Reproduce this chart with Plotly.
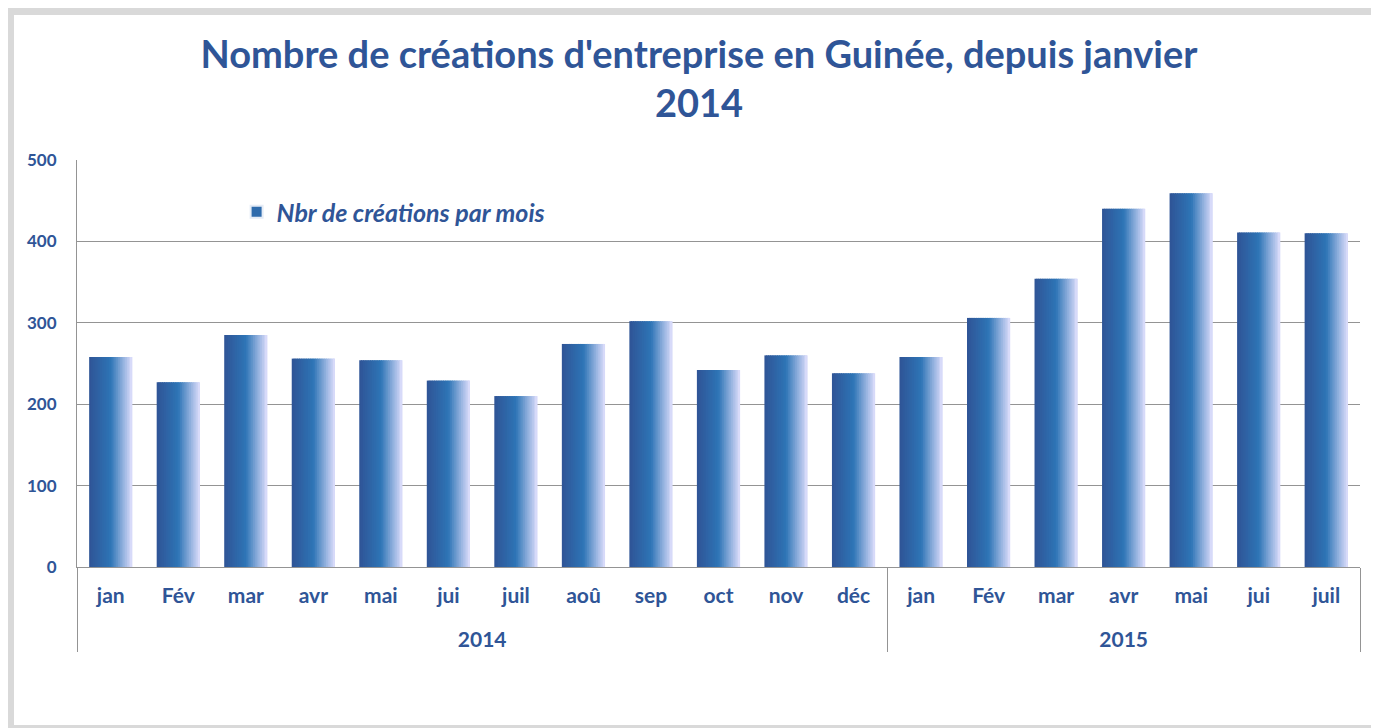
import plotly.graph_objects as go

years = ["2014"] * 12 + ["2015"] * 7
months = ["jan", "Fév", "mar", "avr", "mai", "jui", "juil", "aoû", "sep", "oct", "nov", "déc",
          "jan", "Fév", "mar", "avr", "mai", "jui", "juil"]
creations = [258, 227, 285, 256, 254, 229, 210, 274, 302, 242, 260, 238,
             258, 306, 354, 440, 459, 411, 410]
series_name = "Nbr de créations par mois"

TEXT = "#2F5597"
GRID = "#949494"

# month labels get an extra blank line so the year row sits lower
month_labels = [m + "<br>\u00a0" for m in months]

# horizontal gradient stops for bar fill
stops = [(0.0, (47, 84, 150)), (0.5, (46, 117, 182)), (1.0, (222, 222, 252))]


def grad_color(t):
    for (t0, c0), (t1, c1) in zip(stops[:-1], stops[1:]):
        if t <= t1:
            f = (t - t0) / (t1 - t0)
            return "rgb(%d,%d,%d)" % tuple(round(a + (b - a) * f) for a, b in zip(c0, c1))
    return "rgb(%d,%d,%d)" % stops[-1][1]


bar_w = 0.64
n_slices = 24
slice_w = bar_w / n_slices

fig = go.Figure()
for i in range(n_slices):
    t = (i + 0.5) / n_slices
    fig.add_trace(go.Bar(
        x=[years, month_labels], y=creations,
        width=slice_w * (1.6 if i < n_slices - 1 else 1.0),
        offset=-bar_w / 2 + i * slice_w,
        marker=dict(color=grad_color(t), line=dict(width=0)),
        name=series_name, showlegend=False,
    ))

# legend entry
fig.add_trace(go.Bar(
    x=[years, month_labels], y=[None] * len(creations),
    name="<b><i>" + series_name + "</i></b>",
    marker=dict(color=grad_color(0.35)), showlegend=True,
))

W, H = 1371, 720
ML, MR, MT, MB = 69, 19, 152, 161
PW, PH = W - ML - MR, H - MT - MB

fig.update_layout(
    width=W, height=H,
    margin=dict(l=ML, r=MR, t=MT, b=MB),
    paper_bgcolor="white", plot_bgcolor="white",
    barmode="overlay",
    font=dict(family="Lato", color=TEXT, size=17),
    title=dict(
        text="<b>Nombre de créations d'entreprise en Guinée, depuis janvier<br>2014</b>",
        x=(699 - 8) / W, xanchor="center", y=1 - 60 / H, yanchor="top",
        font=dict(family="Lato", size=38, color=TEXT),
    ),
    legend=dict(
        x=0.1244, y=0.872, xanchor="left", yanchor="middle",
        bgcolor="rgba(0,0,0,0)", font=dict(size=25, color=TEXT, family="Lato"),
        itemsizing="constant",
    ),
    showlegend=True,
)

fig.update_yaxes(
    range=[0, 500], dtick=100, showgrid=True, gridcolor=GRID, gridwidth=1,
    showline=True, linecolor=GRID, linewidth=1, zeroline=False,
    tickfont=dict(family="Lato", size=17, color=TEXT, weight="bold"),
    ticks="", ticklabelstandoff=16,
)
fig.update_xaxes(
    type="multicategory", showline=True, linecolor=GRID, linewidth=1,
    showdividers=True, dividercolor=GRID, dividerwidth=1,
    tickfont=dict(family="Lato", size=21, color=TEXT, weight="bold"),
    ticks="", showgrid=False, ticklabelstandoff=10,
)

# outer frame of the chart area (pixel positions converted to paper units)
fig.add_shape(type="rect", xref="paper", yref="paper",
              x0=(10.5 - 8 - ML) / PW, x1=(1440 - 8 - ML) / PW,
              y0=(H - MB - 728.5 + 8) / PH, y1=(H - MB - 3.5) / PH,
              line=dict(color="#D9D9D9", width=7), fillcolor="rgba(0,0,0,0)", layer="below")

fig.write_html("out.html")
